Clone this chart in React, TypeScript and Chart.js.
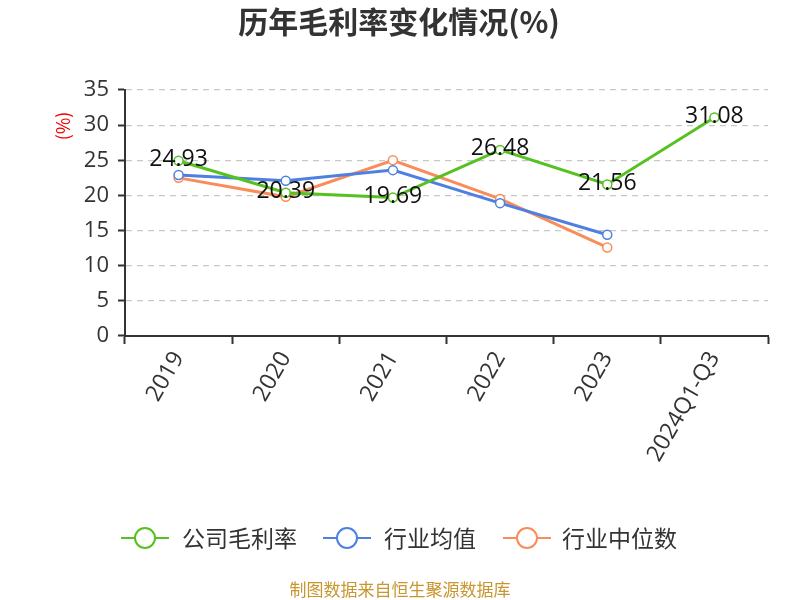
import React, { useEffect, useRef } from "react";
import { Chart, registerables } from "chart.js";

Chart.register(...registerables);

const categories = ["2019", "2020", "2021", "2022", "2023", "2024Q1-Q3"];
const companyMargin = [24.93, 20.39, 19.69, 26.48, 21.56, 31.08];
const industryAvg = [22.9, 22.1, 23.6, 18.9, 14.4, null];
const industryMedian = [22.5, 19.8, 25.0, 19.5, 12.6, null];
const seriesNames = ["公司毛利率", "行业均值", "行业中位数"];
const seriesColors = ["#55c21f", "#4d80e1", "#f98c58"];
const titleText = "历年毛利率变化情况(%)";
const yUnitText = "(%)";
const sourceText = "制图数据来自恒生聚源数据库";

const FONT = "'Open Sans', 'Noto Sans CJK SC', sans-serif";
const CJK = "'Noto Sans CJK SC', 'Open Sans', sans-serif";

const decorPlugin = {
  id: "decor",
  afterDatasetsDraw(chart: any) {
    const ctx = chart.ctx;
    const meta = chart.getDatasetMeta(0);
    ctx.save();
    ctx.font = `23px ${FONT}`;
    ctx.fillStyle = "#111";
    ctx.textAlign = "center";
    ctx.textBaseline = "middle";
    meta.data.forEach((pt: any, i: number) => {
      const v = companyMargin[i];
      ctx.fillText(v.toFixed(2), pt.x, pt.y - 1);
    });
    ctx.restore();
  },
  afterDraw(chart: any) {
    const ctx = chart.ctx;
    ctx.save();
    // title
    ctx.font = `bold 30px ${CJK}`;
    ctx.fillStyle = "#333";
    ctx.textAlign = "center";
    ctx.textBaseline = "middle";
    ctx.fillText(titleText, 399, 22);
    // y unit
    ctx.save();
    ctx.translate(63, 126);
    ctx.rotate(-Math.PI / 2);
    ctx.font = `18px ${CJK}`;
    ctx.fillStyle = "#e00";
    ctx.fillText(yUnitText, 0, 0);
    ctx.restore();
    // legend
    const items = [
      { x: 121, tx: 182 },
      { x: 323, tx: 384 },
      { x: 503, tx: 562 },
    ];
    const ly = 538;
    items.forEach((it, i) => {
      ctx.strokeStyle = seriesColors[i];
      ctx.lineWidth = 2;
      ctx.beginPath();
      ctx.moveTo(it.x, ly);
      ctx.lineTo(it.x + 48, ly);
      ctx.stroke();
      ctx.beginPath();
      ctx.arc(it.x + 24, ly, 10, 0, Math.PI * 2);
      ctx.fillStyle = "#fff";
      ctx.fill();
      ctx.stroke();
      ctx.font = `23px ${CJK}`;
      ctx.fillStyle = "#333";
      ctx.textAlign = "left";
      ctx.textBaseline = "middle";
      ctx.fillText(seriesNames[i], it.tx, ly);
    });
    // source
    ctx.font = `17px ${CJK}`;
    ctx.fillStyle = "#c8962e";
    ctx.textAlign = "center";
    ctx.fillText(sourceText, 400, 590);
    ctx.restore();
  },
};

export default function App() {
  const ref = useRef<HTMLCanvasElement | null>(null);
  useEffect(() => {
    document.body.style.margin = "0";
    const mk = (label: string, data: any[], color: string) => ({
      label,
      data,
      borderColor: color,
      backgroundColor: "#fff",
      borderWidth: 3,
      pointRadius: 4.5,
      pointBorderWidth: 1.5,
      pointBackgroundColor: "#fff",
      pointBorderColor: color,
      tension: 0,
      spanGaps: false,
    });
    const chart = new Chart(ref.current!, {
      type: "line",
      data: {
        labels: categories,
        datasets: [
          mk(seriesNames[0], companyMargin, seriesColors[0]),
          mk(seriesNames[1], industryAvg, seriesColors[1]),
          mk(seriesNames[2], industryMedian, seriesColors[2]),
        ],
      },
      options: {
        animation: false,
        responsive: false,
        devicePixelRatio: 1,
        layout: { padding: { top: 90, right: 32, left: 0, bottom: 0 } },
        plugins: {
          legend: { display: false },
          title: { display: false },
          tooltip: { enabled: false },
        },
        scales: {
          x: {
            type: "category",
            offset: true,
            grid: {
              display: true,
              drawOnChartArea: false,
              offset: true,
              tickLength: 8,
              tickColor: "#333",
              tickWidth: 2,
            },
            border: { display: true, color: "#333", width: 2 },
            ticks: {
              font: { family: FONT, size: 23 },
              color: "#333",
              maxRotation: 60,
              minRotation: 60,
              padding: 3,
              autoSkip: false,
            },
            afterFit: (s: any) => {
              s.height = 264;
            },
          },
          y: {
            min: 0,
            max: 35,
            ticks: {
              stepSize: 5,
              font: { family: FONT, size: 22 },
              color: "#333",
              padding: 9,
            },
            grid: {
              color: "#c8c8c8",
              lineWidth: 1.2,
              tickLength: 7,
              tickColor: "#333",
              tickWidth: 2,
              tickBorderDash: [1, 0],
            },
            border: { display: true, color: "#333", width: 2, dash: [6, 5] },
            afterFit: (s: any) => {
              s.width = 125;
            },
          },
        },
      } as any,
      plugins: [decorPlugin],
    });
    return () => chart.destroy();
  }, []);
  return (
    <div style={{ position: "fixed", left: 0, top: 0, width: 800, height: 600, background: "#fff" }}>
      <canvas ref={ref} width={800} height={600} style={{ width: 800, height: 600 }} />
    </div>
  );
}
